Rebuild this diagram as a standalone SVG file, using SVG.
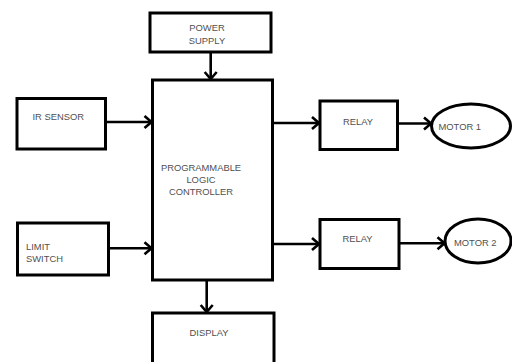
<svg xmlns="http://www.w3.org/2000/svg" width="512" height="362" viewBox="0 0 512 362">
<defs>
<style>
.box{fill:#fff;stroke:#000;stroke-width:3}
.lbl{font-family:"Liberation Sans",Arial,sans-serif;font-size:9.4px;fill:#505050}
.c{stroke:#000;stroke-width:2.6;fill:none}
</style>
<marker id="ah" markerUnits="userSpaceOnUse" markerWidth="14" markerHeight="16" viewBox="-10 -8 14 16" refX="0" refY="0" orient="auto">
<path d="M-7,-6 L0,0 L-7,6" fill="none" stroke="#000" stroke-width="2.6"/>
</marker>
</defs>
<rect width="512" height="362" fill="#fff"/>
<g id="power"><rect class="box" x="150" y="13" width="121" height="39"/>
<text class="lbl" x="207" y="31" text-anchor="middle">POWER</text>
<text class="lbl" x="207" y="43.5" text-anchor="middle">SUPPLY</text></g>
<g id="plc"><rect class="box" x="152.5" y="80" width="120" height="200"/>
<text class="lbl" x="201" y="171" text-anchor="middle">PROGRAMMABLE</text>
<text class="lbl" x="201" y="183" text-anchor="middle">LOGIC</text>
<text class="lbl" x="201" y="195" text-anchor="middle">CONTROLLER</text></g>
<g id="ir"><rect class="box" x="17" y="98.5" width="88.5" height="50.5"/>
<text class="lbl" x="32.5" y="119.5">IR SENSOR</text></g>
<g id="limit"><rect class="box" x="17.5" y="223" width="91" height="52"/>
<text class="lbl" x="26" y="249.5">LIMIT</text>
<text class="lbl" x="26" y="262">SWITCH</text></g>
<g id="relay1"><rect class="box" x="320" y="101" width="77.5" height="48.5"/>
<text class="lbl" x="358" y="124.5" text-anchor="middle">RELAY</text></g>
<g id="relay2"><rect class="box" x="320" y="219.5" width="79" height="49"/>
<text class="lbl" x="357.5" y="242" text-anchor="middle">RELAY</text></g>
<g id="motor1"><ellipse class="box" cx="471" cy="126" rx="39.5" ry="22"/>
<text class="lbl" x="438.5" y="130">MOTOR 1</text></g>
<g id="motor2"><ellipse class="box" cx="478" cy="241" rx="33" ry="22"/>
<text class="lbl" x="454" y="246">MOTOR 2</text></g>
<g id="display"><rect class="box" x="152.5" y="313" width="121.5" height="60"/>
<text class="lbl" x="209" y="335.5" text-anchor="middle">DISPLAY</text></g>
<g id="connectors">
<line class="c" x1="210.7" y1="52" x2="210.7" y2="79" marker-end="url(#ah)"/>
<line class="c" x1="105.5" y1="122" x2="151.5" y2="122" marker-end="url(#ah)"/>
<line class="c" x1="108.5" y1="248.3" x2="151.5" y2="248.3" marker-end="url(#ah)"/>
<line class="c" x1="272.5" y1="123" x2="319" y2="123" marker-end="url(#ah)"/>
<line class="c" x1="272.5" y1="244" x2="319" y2="244" marker-end="url(#ah)"/>
<line class="c" x1="397.5" y1="123.5" x2="431" y2="123.5" marker-end="url(#ah)"/>
<line class="c" x1="399" y1="243.3" x2="444.5" y2="243.3" marker-end="url(#ah)"/>
<line class="c" x1="206.7" y1="280" x2="206.7" y2="312" marker-end="url(#ah)"/>
</g>
</svg>
